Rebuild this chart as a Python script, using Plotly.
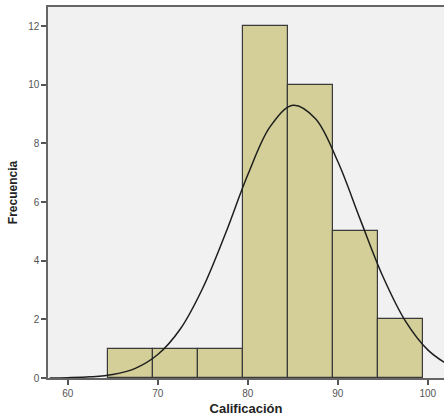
import plotly.graph_objects as go

# Histogram bins (centres) and frequencies
bin_centers = [67, 72, 77, 82, 87, 92, 97]
frequencies = [1, 1, 1, 12, 10, 5, 2]
bin_width = 5

# Normal curve, points
curve_x = [58, 60, 62.5, 65, 67.5, 70, 72.5, 75, 77.5, 80, 82.5, 85, 87.5, 90, 92.5, 95, 97.5, 100, 102]
curve_y = [0.0, 0.01, 0.04, 0.12, 0.33, 0.8, 1.67, 3.07, 4.91, 6.93, 8.58, 9.3, 8.85, 7.38, 5.4, 3.47, 1.95, 0.96, 0.5]

x_ticks = [60, 70, 80, 90, 100]
y_ticks = [0, 2, 4, 6, 8, 10, 12]

fig = go.Figure()
fig.add_trace(go.Bar(
    x=bin_centers, y=frequencies, width=[bin_width] * len(bin_centers),
    marker=dict(color="#d4cf98", line=dict(color="#3a3a3a", width=1.2)),
    hoverinfo="x+y",
))
fig.add_trace(go.Scatter(
    x=curve_x, y=curve_y, mode="lines",
    line=dict(color="#1e1e1e", width=1.5, shape="spline"),
))

fig.update_layout(
    width=444, height=419,
    margin=dict(l=48, r=0, t=7, b=41),
    paper_bgcolor="white",
    plot_bgcolor="#f1f1f1",
    showlegend=False,
    bargap=0,
    font=dict(family="Liberation Sans, Arial, sans-serif", color="#555555"),
)
fig.update_xaxes(
    range=[57.8, 101.8], tickvals=x_ticks, ticks="outside", ticklen=5,
    tickcolor="#555555", tickwidth=1.5,
    showline=True, linecolor="#666666", linewidth=1.5, mirror=True,
    showgrid=False, zeroline=False,
    tickfont=dict(size=10, color="#555555"),
    title=dict(text="<b>Calificación</b>", font=dict(size=13, color="#222222"), standoff=6),
)
fig.update_yaxes(
    range=[0, 12.65], tickvals=y_ticks, ticks="outside", ticklen=5,
    tickcolor="#555555", tickwidth=1.5,
    showline=True, linecolor="#666666", linewidth=1.5, mirror=False,
    showgrid=False, zeroline=False,
    tickfont=dict(size=10, color="#555555"),
    title=dict(text="<b>Frecuencia</b>", font=dict(size=12, color="#222222"), standoff=8),
)

fig.write_html(
    "out.html",
    config={"displayModeBar": False},
    post_script="document.body.style.margin='0';document.body.style.overflow='hidden';",
)
